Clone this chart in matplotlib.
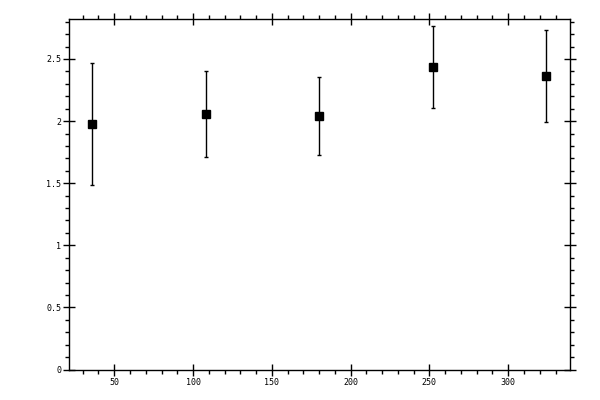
import matplotlib
matplotlib.use('Agg')
import matplotlib.pyplot as plt
from matplotlib.ticker import MultipleLocator, FormatStrFormatter

# values
x_vals = [36, 108, 180, 252, 324]
y_vals = [1.976, 2.057, 2.040, 2.436, 2.363]
y_err = [0.49, 0.35, 0.315, 0.33, 0.37]

fig = plt.figure(figsize=(6, 4), dpi=100)
ax = fig.add_axes([0.1158, 0.076, 0.835, 0.876])

ax.errorbar(x_vals, y_vals, yerr=y_err, fmt='s', color='black', ms=5.2,
            elinewidth=1.0, capsize=1.6, capthick=1.0)

ax.set_xlim(21.6, 339.5)
ax.set_ylim(0, 2.82)

ax.xaxis.set_major_locator(MultipleLocator(50))
ax.xaxis.set_minor_locator(MultipleLocator(10))
ax.yaxis.set_major_locator(MultipleLocator(0.5))
ax.yaxis.set_minor_locator(MultipleLocator(0.1))
ax.yaxis.set_major_formatter(FormatStrFormatter('%g'))

ax.tick_params(which='major', direction='inout', length=8, width=1,
               top=True, right=True, labelsize=6, pad=2)
ax.tick_params(which='minor', direction='out', length=3, width=1,
               top=True, right=True)
for lab in ax.get_xticklabels() + ax.get_yticklabels():
    lab.set_family('DejaVu Sans Mono')

for sp in ax.spines.values():
    sp.set_linewidth(1.0)

fig.savefig('out.png', dpi=100)
